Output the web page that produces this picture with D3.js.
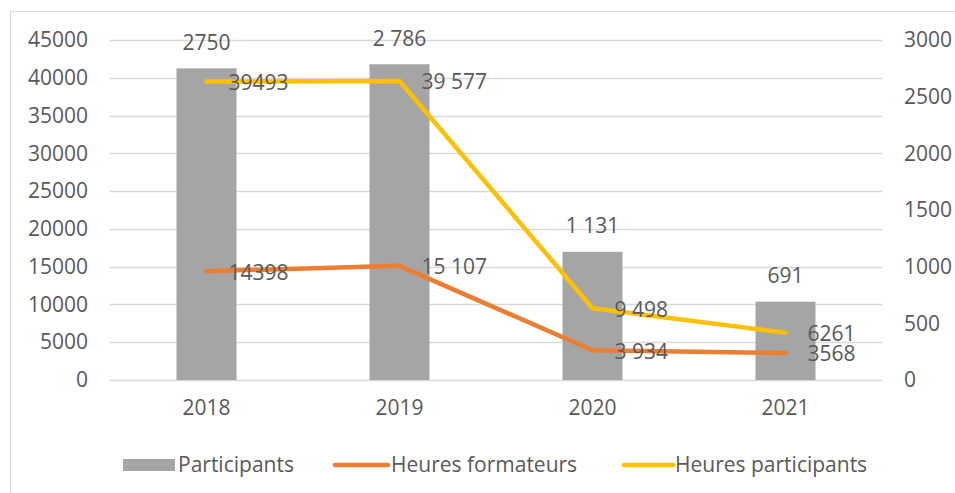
<!DOCTYPE html>
<html>
<head>
<meta charset="utf-8">
<script src="https://cdn.jsdelivr.net/npm/d3@7"></script>
<style>
  body { margin: 0; background: #fff; }
  svg text { font-family: "Open Sans", sans-serif; fill: #595959; }
</style>
</head>
<body>
<div id="chart"></div>
<script>
// Data
var years = ["2018", "2019", "2020", "2021"];
var participants = [2750, 2786, 1131, 691];
var participantsLabels = ["2750", "2 786", "1 131", "691"];
var heuresFormateurs = [14398, 15107, 3934, 3568];
var heuresFormateursLabels = ["14398", "15 107", "3 934", "3568"];
var heuresParticipants = [39493, 39577, 9498, 6261];
var heuresParticipantsLabels = ["39493", "39 577", "9 498", "6261"];
var leftTicks = [0, 5000, 10000, 15000, 20000, 25000, 30000, 35000, 40000, 45000];
var rightTicks = [0, 500, 1000, 1500, 2000, 2500, 3000];

var width = 955, height = 493;
var margin = { top: 40, right: 73, bottom: 113, left: 110 };
var fontSize = 21;

var svg = d3.select("#chart")
    .append("svg")
    .attr("width", width)
    .attr("height", height);

// outer chart frame
svg.append("rect")
    .attr("x", 10.5).attr("y", 11.5)
    .attr("width", 980).attr("height", 520)
    .attr("fill", "none")
    .attr("stroke", "#d9d9d9");

var x = d3.scaleBand()
    .domain(years)
    .range([margin.left, width - margin.right]);

var yLeft = d3.scaleLinear()
    .domain([0, 45000])
    .range([height - margin.bottom, margin.top]);

var yRight = d3.scaleLinear()
    .domain([0, 3000])
    .range([height - margin.bottom, margin.top]);

// gridlines
svg.append("g")
    .selectAll("line")
    .data(leftTicks)
    .enter()
    .append("line")
    .attr("x1", margin.left)
    .attr("x2", width - margin.right)
    .attr("y1", function (d) { return Math.round(yLeft(d)) + 0.5; })
    .attr("y2", function (d) { return Math.round(yLeft(d)) + 0.5; })
    .attr("stroke", "#d9d9d9")
    .attr("stroke-width", 1.5);

// left axis
var leftAxis = svg.append("g")
    .attr("transform", "translate(" + (margin.left - 22) + ",0)")
    .call(d3.axisLeft(yLeft).tickValues(leftTicks).tickSize(0).tickPadding(0).tickFormat(d3.format("d")));
leftAxis.select(".domain").remove();
leftAxis.selectAll("text").attr("font-size", fontSize).attr("font-family", null);

// right axis
var rightAxis = svg.append("g")
    .attr("transform", "translate(" + (width - margin.right + 22) + ",0)")
    .call(d3.axisRight(yRight).tickValues(rightTicks).tickSize(0).tickPadding(0).tickFormat(d3.format("d")));
rightAxis.select(".domain").remove();
rightAxis.selectAll("text").attr("font-size", fontSize).attr("font-family", null);

// x axis
var xAxis = svg.append("g")
    .attr("transform", "translate(0," + (height - margin.bottom + 19) + ")")
    .call(d3.axisBottom(x).tickSize(0).tickPadding(0));
xAxis.select(".domain").remove();
xAxis.selectAll("text").attr("font-size", fontSize).attr("font-family", null).attr("dy", "0.75em");

// bars (right axis)
var barWidth = 60;
svg.append("g")
    .selectAll("rect")
    .data(participants)
    .enter()
    .append("rect")
    .attr("x", function (d, i) { return x(years[i]) + x.bandwidth() / 2 - barWidth / 2; })
    .attr("y", function (d) { return yRight(d); })
    .attr("width", barWidth)
    .attr("height", function (d) { return yRight(0) - yRight(d); })
    .attr("fill", "#a5a5a5");

// lines (left axis)
var line = d3.line()
    .x(function (d, i) { return x(years[i]) + x.bandwidth() / 2; })
    .y(function (d) { return yLeft(d); });

svg.append("path")
    .datum(heuresFormateurs)
    .attr("d", line)
    .attr("fill", "none")
    .attr("stroke", "#ed7d31")
    .attr("stroke-width", 4.5)
    .attr("stroke-linecap", "round")
    .attr("stroke-linejoin", "round");

svg.append("path")
    .datum(heuresParticipants)
    .attr("d", line)
    .attr("fill", "none")
    .attr("stroke", "#ffc000")
    .attr("stroke-width", 4.5)
    .attr("stroke-linecap", "round")
    .attr("stroke-linejoin", "round");

// bar labels
svg.append("g")
    .selectAll("text")
    .data(participants)
    .enter()
    .append("text")
    .attr("x", function (d, i) { return x(years[i]) + x.bandwidth() / 2; })
    .attr("y", function (d) { return yRight(d) - 26; })
    .attr("dy", "0.35em")
    .attr("text-anchor", "middle")
    .attr("font-size", fontSize)
    .text(function (d, i) { return participantsLabels[i]; });

// line labels, to the right of each point
function lineLabels(values, labels) {
    svg.append("g")
        .selectAll("text")
        .data(values)
        .enter()
        .append("text")
        .attr("x", function (d, i) { return x(years[i]) + x.bandwidth() / 2 + 22; })
        .attr("y", function (d) { return yLeft(d) + 1; })
        .attr("dy", "0.35em")
        .attr("font-size", fontSize)
        .text(function (d, i) { return labels[i]; });
}
lineLabels(heuresFormateurs, heuresFormateursLabels);
lineLabels(heuresParticipants, heuresParticipantsLabels);

// legend
var legendY = 465;
var legend = svg.append("g");
legend.append("rect")
    .attr("x", 123).attr("y", legendY - 6)
    .attr("width", 52).attr("height", 12)
    .attr("fill", "#a5a5a5");
legend.append("text")
    .attr("x", 178).attr("y", legendY).attr("dy", "0.35em")
    .attr("font-size", fontSize).text("Participants");

legend.append("line")
    .attr("x1", 335).attr("x2", 388)
    .attr("y1", legendY).attr("y2", legendY)
    .attr("stroke", "#ed7d31").attr("stroke-width", 4.5).attr("stroke-linecap", "round");
legend.append("text")
    .attr("x", 391).attr("y", legendY).attr("dy", "0.35em")
    .attr("font-size", fontSize).text("Heures formateurs");

legend.append("line")
    .attr("x1", 624).attr("x2", 673)
    .attr("y1", legendY).attr("y2", legendY)
    .attr("stroke", "#ffc000").attr("stroke-width", 4.5).attr("stroke-linecap", "round");
legend.append("text")
    .attr("x", 675).attr("y", legendY).attr("dy", "0.35em")
    .attr("font-size", fontSize).text("Heures participants");
</script>
</body>
</html>
